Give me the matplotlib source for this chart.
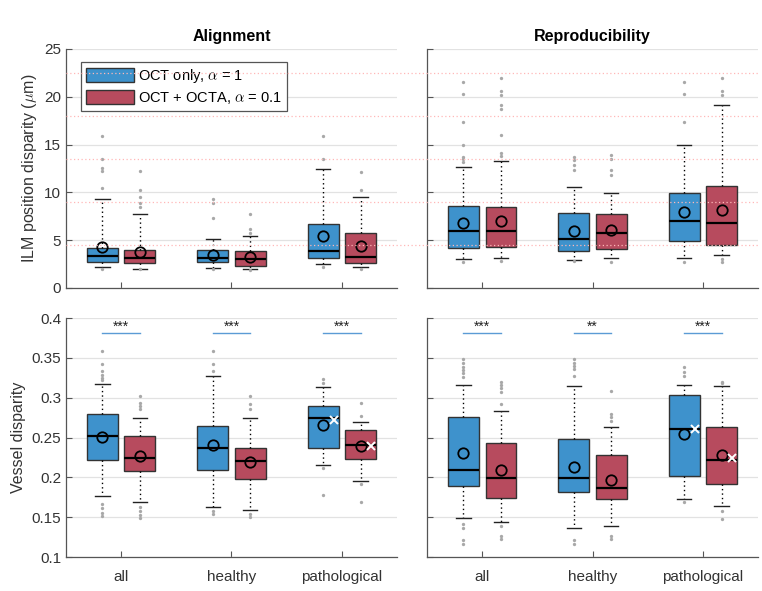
import numpy as np
import matplotlib.pyplot as plt
import matplotlib.transforms as mtransforms
from matplotlib.patches import Patch

plt.rcParams['font.family'] = ['Liberation Sans', 'DejaVu Sans']
plt.rcParams['mathtext.fontset'] = 'cm'

# groups along x
groups = ['all', 'healthy', 'pathological']

# box stats per group: [whislo, q1, median, q3, whishi, mean]
ilm_align_oct = [[2.2, 2.75, 3.35, 4.18, 9.27, 4.25],
                 [2.13, 2.68, 3.17, 4.0, 5.13, 3.45],
                 [2.48, 3.14, 3.84, 6.66, 12.48, 5.44]]
ilm_align_octa = [[2.02, 2.58, 3.1, 3.97, 7.7, 3.73],
                  [1.95, 2.34, 3.03, 3.87, 5.4, 3.24],
                  [2.23, 2.65, 3.28, 5.79, 9.52, 4.43]]
ilm_repro_oct = [[3.0, 4.15, 5.96, 8.58, 12.66, 6.8],
                 [2.93, 3.87, 5.16, 7.81, 10.56, 6.0],
                 [3.1, 4.88, 7.0, 9.94, 14.96, 7.95]]
ilm_repro_octa = [[3.14, 4.25, 5.96, 8.44, 13.28, 6.97],
                  [3.1, 4.08, 5.72, 7.74, 9.97, 6.1],
                  [3.45, 4.5, 6.8, 10.7, 19.1, 8.19]]
ves_align_oct = [[0.1766, 0.2213, 0.2519, 0.279, 0.3176, 0.251],
                 [0.1632, 0.2088, 0.2364, 0.2644, 0.3272, 0.2402],
                 [0.2159, 0.2364, 0.2745, 0.29, 0.3134, 0.2661]]
ves_align_octa = [[0.1695, 0.2084, 0.2247, 0.2523, 0.2749, 0.2272],
                  [0.1586, 0.1983, 0.2205, 0.2372, 0.2749, 0.2192],
                  [0.1958, 0.2234, 0.241, 0.2598, 0.269, 0.2393]]
ves_repro_oct = [[0.1485, 0.1891, 0.2092, 0.2753, 0.3163, 0.2301],
                 [0.136, 0.1812, 0.1992, 0.2485, 0.3151, 0.2134],
                 [0.1724, 0.2021, 0.2603, 0.3029, 0.3163, 0.254]]
ves_repro_octa = [[0.1444, 0.1745, 0.1996, 0.2427, 0.2828, 0.2092],
                  [0.1385, 0.1724, 0.187, 0.228, 0.2636, 0.1967],
                  [0.164, 0.1912, 0.2218, 0.2628, 0.3151, 0.2276]]

# outliers per group
ilm_align_oct_fl = [[15.87, 13.5, 12.55, 12.2, 10.46, 1.95],
                    [9.27, 8.93, 7.36, 1.95],
                    [15.87, 13.49, 2.23]]
ilm_align_octa_fl = [[12.2, 10.25, 9.48, 8.86, 8.5, 1.95],
                     [7.74, 6.17, 5.72, 1.9],
                     [12.17, 10.2, 1.95]]
ilm_repro_oct_fl = [[21.58, 20.3, 17.4, 14.96, 13.74, 13.46, 13.18, 2.75],
                    [13.67, 13.39, 12.87, 12.38, 2.79],
                    [21.58, 20.3, 17.4, 2.75]]
ilm_repro_octa_fl = [[22.0, 20.64, 20.2, 19.14, 18.7, 16.0, 14.09, 13.84, 2.86],
                     [13.9, 13.5, 12.34, 11.82, 2.75],
                     [22.0, 20.64, 20.2, 3.0, 2.75]]
ves_align_oct_fl = [[0.359, 0.342, 0.3335, 0.3285, 0.325, 0.322, 0.167, 0.162, 0.1556, 0.1515],
                    [0.359, 0.342, 0.3335, 0.158, 0.154],
                    [0.323, 0.3188, 0.2113, 0.1778]]
ves_align_octa_fl = [[0.3017, 0.293, 0.2895, 0.2862, 0.163, 0.158, 0.1527, 0.149],
                     [0.3017, 0.2916, 0.2862, 0.154, 0.1498],
                     [0.293, 0.2766, 0.1916, 0.1695]]
ves_repro_oct_fl = [[0.348, 0.343, 0.339, 0.335, 0.3305, 0.326, 0.1414, 0.136, 0.1213, 0.1159],
                    [0.348, 0.344, 0.34, 0.3356, 0.327, 0.1213, 0.1163],
                    [0.338, 0.3326, 0.327, 0.1686]]
ves_repro_octa_fl = [[0.32, 0.316, 0.3117, 0.3075, 0.2916, 0.139, 0.1264, 0.1226],
                     [0.3084, 0.279, 0.2753, 0.2711, 0.1264, 0.1222],
                     [0.32, 0.318, 0.1577, 0.1473]]

# white crosses (pathological only): [OCT only, OCT + OCTA]
ves_align_cross = [0.272, 0.2393]
ves_repro_cross = [0.2603, 0.2243]

# significance labels
sig_align = ['***', '***', '***']
sig_repro = ['***', '**', '***']

# dotted reference levels in top row
ilm_ref_levels = [4.5, 9.0, 13.5, 18.0, 22.5]

blue = '#3e92cc'
red = '#b74b5e'
dx = 0.17
width = 0.28


def make_stats(rows, fliers):
    out = []
    for r, f in zip(rows, fliers):
        out.append(dict(whislo=r[0], q1=r[1], med=r[2], q3=r[3], whishi=r[4],
                        mean=r[5], fliers=f))
    return out


def draw_boxes(ax, rows, fliers, offset, color):
    pos = np.arange(1, len(groups) + 1) + offset
    ax.bxp(make_stats(rows, fliers), positions=pos, widths=width,
           patch_artist=True, showmeans=True, capwidths=0.13,
           boxprops=dict(facecolor=color, edgecolor='#333333', linewidth=1.0),
           medianprops=dict(color='black', linewidth=1.6),
           whiskerprops=dict(color='black', linestyle=(0, (1, 2.2)), linewidth=1.0),
           capprops=dict(color='#222222', linewidth=1.0),
           flierprops=dict(marker='o', markersize=2.4, markerfacecolor='#a8a8a8',
                           markeredgecolor='none'),
           meanprops=dict(marker='o', markersize=7.5, markerfacecolor='none',
                          markeredgecolor='black', markeredgewidth=1.3),
           zorder=3)


def style_axes(ax, ylim, yticks, show_ylabels, show_xlabels):
    ax.set_xlim(0.5, 3.5)
    ax.set_ylim(*ylim)
    ax.set_yticks(yticks)
    ax.set_xticks([1, 2, 3])
    ax.set_xticklabels(groups, fontsize=11)
    ax.grid(axis='y', color='#e2e2e2', linewidth=0.9, zorder=0)
    ax.set_axisbelow(True)
    ax.spines['top'].set_visible(False)
    ax.spines['right'].set_visible(False)
    for s in ['left', 'bottom']:
        ax.spines[s].set_color('#555555')
        ax.spines[s].set_linewidth(0.9)
    ax.tick_params(direction='in', length=4, width=0.8, colors='#555555',
                   labelcolor='#333333', labelsize=11)
    ax.tick_params(axis='x', pad=9)
    if not show_ylabels:
        ax.set_yticklabels([])
    if not show_xlabels:
        ax.set_xticklabels([])


def add_sig(ax, labels):
    for i, lab in enumerate(labels):
        x = i + 1
        ax.plot([x - dx, x + dx], [0.381, 0.381], color='#5b9bd5', linewidth=1.0)
        ax.text(x, 0.3885, lab, ha='center', va='center', fontsize=10, color='#222222')


fig = plt.figure(figsize=(7.62, 5.91), dpi=100)
ax_tl = fig.add_axes([0.0866, 0.5127, 0.4344, 0.4044])
ax_tr = fig.add_axes([0.5604, 0.5127, 0.4344, 0.4044])
ax_bl = fig.add_axes([0.0866, 0.0575, 0.4344, 0.4044])
ax_br = fig.add_axes([0.5604, 0.0575, 0.4344, 0.4044])

draw_boxes(ax_tl, ilm_align_oct, ilm_align_oct_fl, -dx, blue)
draw_boxes(ax_tl, ilm_align_octa, ilm_align_octa_fl, dx, red)
draw_boxes(ax_tr, ilm_repro_oct, ilm_repro_oct_fl, -dx, blue)
draw_boxes(ax_tr, ilm_repro_octa, ilm_repro_octa_fl, dx, red)
draw_boxes(ax_bl, ves_align_oct, ves_align_oct_fl, -dx, blue)
draw_boxes(ax_bl, ves_align_octa, ves_align_octa_fl, dx, red)
draw_boxes(ax_br, ves_repro_oct, ves_repro_oct_fl, -dx, blue)
draw_boxes(ax_br, ves_repro_octa, ves_repro_octa_fl, dx, red)

style_axes(ax_tl, (0, 25), [0, 5, 10, 15, 20, 25], True, False)
style_axes(ax_tr, (0, 25), [0, 5, 10, 15, 20, 25], False, False)
style_axes(ax_bl, (0.1, 0.4), [0.1, 0.15, 0.2, 0.25, 0.3, 0.35, 0.4], True, True)
style_axes(ax_br, (0.1, 0.4), [0.1, 0.15, 0.2, 0.25, 0.3, 0.35, 0.4], False, True)
ax_bl.set_yticklabels(['0.1', '0.15', '0.2', '0.25', '0.3', '0.35', '0.4'])

# pink dotted reference lines spanning both top panels
trans = mtransforms.blended_transform_factory(fig.transFigure, ax_tl.transData)
for lvl in ilm_ref_levels:
    fig.add_artist(plt.Line2D([0.0866, 0.9948], [lvl, lvl], transform=trans,
                              color='#ffb8b8', linestyle=(0, (1, 2)), linewidth=0.9,
                              zorder=1))

# white crosses
ax_bl.plot([3 - dx + 0.095, 3 + dx + 0.095], ves_align_cross, linestyle='none',
           marker='x', color='white', markersize=6, markeredgewidth=1.4, zorder=5)
ax_br.plot([3 - dx + 0.095, 3 + dx + 0.095], ves_repro_cross, linestyle='none',
           marker='x', color='white', markersize=6, markeredgewidth=1.4, zorder=5)

add_sig(ax_bl, sig_align)
add_sig(ax_br, sig_repro)

ax_tl.set_title('Alignment', fontsize=11.5, fontweight='bold', pad=6)
ax_tr.set_title('Reproducibility', fontsize=11.5, fontweight='bold', pad=6)
ax_tl.set_ylabel(r'ILM position disparity ($\mu$m)', fontsize=11.5, color='#333333')
ax_bl.set_ylabel('Vessel disparity', fontsize=11.5, color='#333333')

handles = [Patch(facecolor=blue, edgecolor='#333333', label=r'OCT only, $\alpha$ = 1'),
           Patch(facecolor=red, edgecolor='#333333', label=r'OCT + OCTA, $\alpha$ = 0.1')]
leg = ax_tl.legend(handles=handles, loc='upper left', bbox_to_anchor=(0.045, 0.945),
                   borderaxespad=0, fontsize=10.5, handlelength=3.3, handleheight=1.1,
                   fancybox=False, framealpha=1, edgecolor='#555555',
                   borderpad=0.35, labelspacing=0.3, handletextpad=0.3)
leg.get_frame().set_linewidth(0.9)
leg.set_zorder(10)

fig.savefig('out.png', dpi=100)
